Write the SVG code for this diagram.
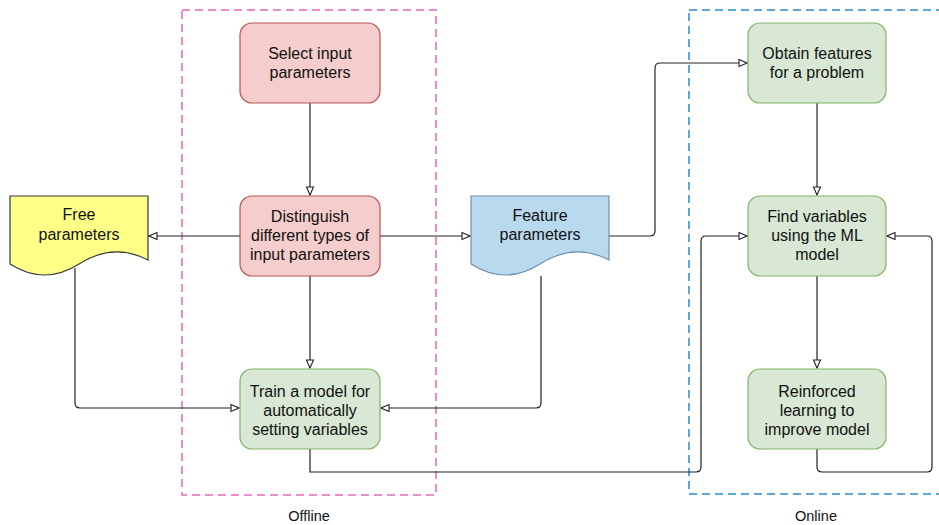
<svg xmlns="http://www.w3.org/2000/svg" width="939" height="525" viewBox="0 0 939 525">
<defs>
<style>
.t{font-family:"Liberation Sans",Arial,sans-serif;font-size:16px;fill:#111;text-anchor:middle}
.s{font-size:14.5px}
.red{fill:#f4cdcc;stroke:#b85450;stroke-width:1.2}
.grn{fill:#d8e8d4;stroke:#82b366;stroke-width:1.2}
.e{fill:none;stroke:#222;stroke-width:1.2}
</style>
<marker id="a" viewBox="0 0 10 10" refX="9" refY="5" markerWidth="10" markerHeight="10" markerUnits="userSpaceOnUse" orient="auto">
<path d="M1,1.5 L9,5 L1,8.5 Z" fill="#fff" stroke="#222" stroke-width="1.1"/>
</marker>
</defs>
<rect width="939" height="525" fill="#fff"/>
<g id="offline">
<rect x="182" y="10" width="254" height="485" fill="none" stroke="#ec8ccb" stroke-width="2" stroke-dasharray="8 5"/>
<text class="t s" x="309" y="521">Offline</text>
</g>
<g id="online">
<rect x="689" y="10" width="256" height="484" fill="none" stroke="#5ea6dc" stroke-width="2" stroke-dasharray="8 5"/>
<text class="t s" x="816" y="521">Online</text>
</g>
<g id="connectors">
<path class="e" d="M310,103 V195" marker-end="url(#a)"/>
<path class="e" d="M240,236 H149" marker-end="url(#a)"/>
<path class="e" d="M380,236 H470" marker-end="url(#a)"/>
<path class="e" d="M310,276 V368" marker-end="url(#a)"/>
<path class="e" d="M75,268 V403 Q75,408 80,408 H239" marker-end="url(#a)"/>
<path class="e" d="M541,276 V403 Q541,408 536,408 H381" marker-end="url(#a)"/>
<path class="e" d="M609,236 H650 Q655,236 655,231 V68 Q655,63 660,63 H747" marker-end="url(#a)"/>
<path class="e" d="M310,449 V472 H696 Q701,472 701,467 V241 Q701,236 706,236 H747" marker-end="url(#a)"/>
<path class="e" d="M817,103 V195" marker-end="url(#a)"/>
<path class="e" d="M817,276 V368" marker-end="url(#a)"/>
<path class="e" d="M817,449 V467 Q817,472 822,472 H927 Q932,472 932,467 V241 Q932,236 927,236 H887" marker-end="url(#a)"/>
</g>
<g id="select">
<rect class="red" x="240" y="23" width="140" height="80" rx="12"/>
<text class="t" x="310" y="59">Select input</text>
<text class="t" x="310" y="78">parameters</text>
</g>
<g id="distinguish">
<rect class="red" x="240" y="196" width="140" height="80" rx="12"/>
<text class="t" x="310" y="222">Distinguish</text>
<text class="t" x="310" y="241">different types of</text>
<text class="t" x="310" y="260">input parameters</text>
</g>
<g id="train">
<rect class="grn" x="240" y="369" width="140" height="80" rx="12"/>
<text class="t" x="310" y="397">Train a model for</text>
<text class="t" x="310" y="416">automatically</text>
<text class="t" x="310" y="435">setting variables</text>
</g>
<g id="free">
<path d="M10,196 H148 V260 Q113.5,242 79,264 Q44.5,286 10,264 Z" fill="#ffff88" stroke="#36393d" stroke-width="1.2"/>
<text class="t" x="79" y="220">Free</text>
<text class="t" x="79" y="240">parameters</text>
</g>
<g id="feature">
<path d="M471,196 H609 V260 Q574.5,242 540,264 Q505.5,286 471,264 Z" fill="#b8d9ee" stroke="#6f8fa8" stroke-width="1.2"/>
<text class="t" x="540" y="221">Feature</text>
<text class="t" x="540" y="240">parameters</text>
</g>
<g id="obtain">
<rect class="grn" x="748" y="23" width="138" height="80" rx="12"/>
<text class="t" x="817" y="59">Obtain features</text>
<text class="t" x="817" y="78">for a problem</text>
</g>
<g id="find">
<rect class="grn" x="748" y="196" width="138" height="80" rx="12"/>
<text class="t" x="817" y="222">Find variables</text>
<text class="t" x="817" y="241">using the ML</text>
<text class="t" x="817" y="260">model</text>
</g>
<g id="reinforced">
<rect class="grn" x="748" y="369" width="138" height="80" rx="12"/>
<text class="t" x="817" y="397">Reinforced</text>
<text class="t" x="817" y="416">learning to</text>
<text class="t" x="817" y="435">improve model</text>
</g>
</svg>
